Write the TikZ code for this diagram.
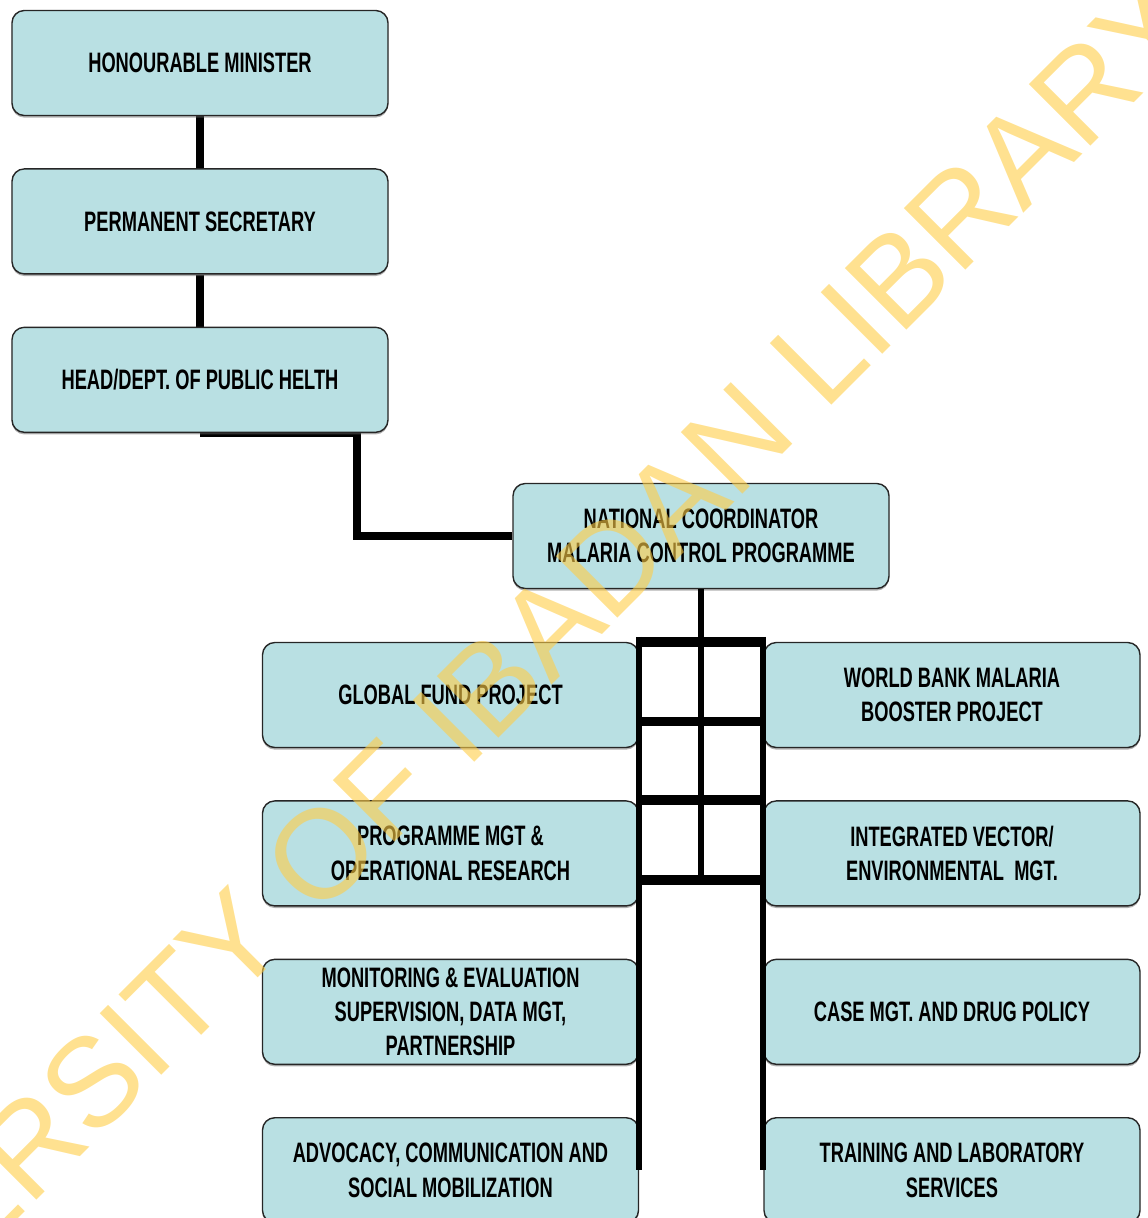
\documentclass[tikz,border=0pt]{standalone}
\usepackage{fontspec}
\newfontfamily\boxfont[FakeStretch=0.65]{Liberation Sans}
\newfontfamily\markfont{Liberation Sans}
\usetikzlibrary{positioning,backgrounds,calc,shadows}
\definecolor{boxblue}{RGB}{185,224,227}
\definecolor{markyellow}{RGB}{255,205,70}

\begin{document}
\begin{tikzpicture}[
    node distance=1.04cm,
    unit/.style={rectangle, draw=black!85, fill=boxblue, rounded corners=7pt,
                 line width=0.8pt, minimum width=7.52cm, minimum height=2.1cm,
                 inner sep=2pt, align=center,
                 drop shadow={shadow xshift=0pt, shadow yshift=-1.2pt, fill=black!60},
                 font=\boxfont\bfseries\fontsize{16}{19.5}\selectfont},
    link/.style={line width=4.5pt},
    rail/.style={line width=3.5pt},
    bar/.style={line width=5.5pt},
    stampmark/.style={text=markyellow, opacity=0.6, rotate=45,
                 font=\markfont\fontsize{72}{86}\selectfont}
  ]
    \useasboundingbox (0,0) rectangle (22.94,-24.36);

    %--- Ministry chain ---
    \node[unit] (minister) at (4.0,-1.26) {HONOURABLE MINISTER};
    \node[unit, below=of minister] (secretary) {PERMANENT SECRETARY};
    \node[unit, below=of secretary] (health) {HEAD/DEPT. OF PUBLIC HELTH};

    \node[unit] (coord) at (14.02,-10.72)
                {NATIONAL COORDINATOR\\MALARIA CONTROL PROGRAMME};

    %--- Left column ---
    \node[unit] (gfund) at (9.01,-13.9) {GLOBAL FUND PROJECT};
    \node[unit, below=of gfund] (programme)
                {PROGRAMME MGT \&\\OPERATIONAL RESEARCH};
    \node[unit, below=of programme] (monitor)
                {MONITORING \& EVALUATION\\SUPERVISION, DATA MGT,\\PARTNERSHIP};
    \node[unit, below=of monitor] (advocacy)
                {ADVOCACY, COMMUNICATION AND\\SOCIAL MOBILIZATION};

    %--- Right column ---
    \node[unit] (wbank) at (19.04,-13.9) {WORLD BANK MALARIA\\BOOSTER PROJECT};
    \node[unit, below=of wbank] (vector)
                {INTEGRATED VECTOR/\\ENVIRONMENTAL\ \ MGT.};
    \node[unit, below=of vector] (casemgt) {CASE MGT. AND DRUG POLICY};
    \node[unit, below=of casemgt] (training)
                {TRAINING AND LABORATORY\\SERVICES};

    \coordinate (bend) at ($(health.south)+(3.14,0)$);

    \begin{scope}[on background layer]
      \draw[link] (minister) -- (secretary);
      \draw[link] (secretary) -- (health);
      \draw[link] (health.south) -- (bend) |- (coord.west);
      \draw[bar] (gfund.north east) -- (wbank.north west);
      \draw[bar] ($(gfund.east)!0.5!(gfund.south east)$)
              -- ($(wbank.west)!0.5!(wbank.south west)$);
      \draw[bar] (programme.north east) -- (vector.north west);
      \draw[bar] ($(programme.east)!0.5!(programme.south east)$) coordinate (lowbar)
              -- ($(vector.west)!0.5!(vector.south west)$);
    \end{scope}

    %--- Branch rails ---
    \draw[rail] (coord.south) -- (coord.south |- lowbar);
    \draw[rail, shorten <=-2.75pt] (gfund.north east) -- (advocacy.east);
    \draw[rail, shorten <=-2.75pt] (wbank.north west) -- (training.west);

    %--- Watermark ---
    \node[stampmark] (stamp) at (9.0,-14.5) {UNIVERSITY OF IBADAN LIBRARY};
\end{tikzpicture}
\end{document}
